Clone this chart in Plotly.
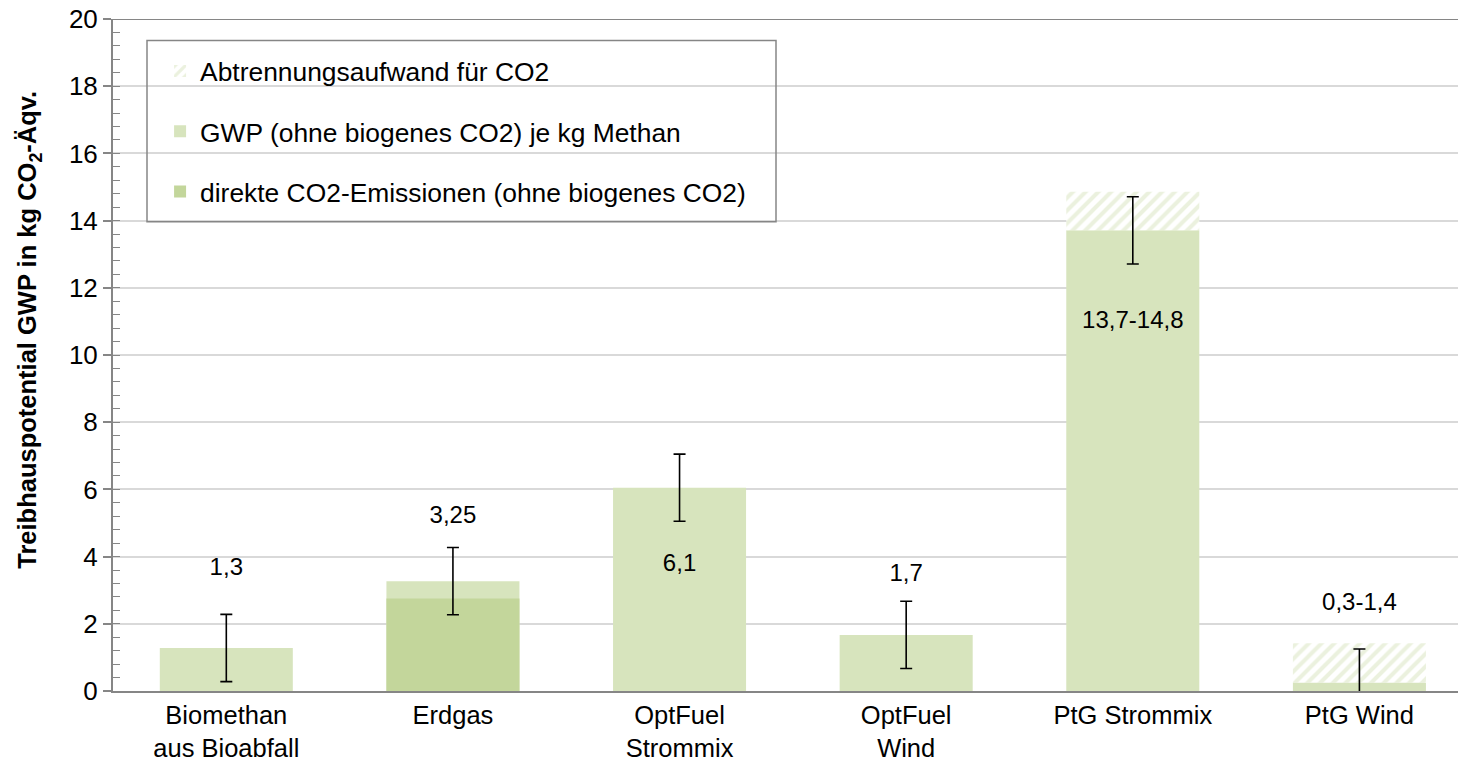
import plotly.graph_objects as go

categories = ["Biomethan<br>aus Bioabfall", "Erdgas", "OptFuel<br>Strommix", "OptFuel<br>Wind", "PtG Strommix", "PtG Wind"]
gwp = [1.28, 3.27, 6.05, 1.67, 13.71, 0.25]
abtrennung_top = [None, None, None, None, 14.86, 1.42]
direkt = [None, 2.75, None, None, None, None]
err = [1.0, 1.0, 1.0, 1.0, 1.0, 1.0]
label_text = ["1,3", "3,25", "6,1", "1,7", "13,7-14,8", "0,3-1,4"]
label_y = [3.64, 5.19, 3.76, 3.46, 10.99, 2.6]

LIGHT = "#D7E4BD"
DARK = "#C3D69B"
GRAY = "#868686"
FONT = "Liberation Sans, Arial, sans-serif"

hatch_base = [g if t is not None else None for g, t in zip(gwp, abtrennung_top)]
hatch_len = [(t - g) if t is not None else None for g, t in zip(gwp, abtrennung_top)]

fig = go.Figure()
fig.add_trace(go.Bar(
    x=categories, y=gwp, name="GWP (ohne biogenes CO2) je kg Methan",
    marker=dict(color=LIGHT, line=dict(width=0)), width=0.587,
    legendgroup="b", legendrank=2, showlegend=True,
))
fig.add_trace(go.Bar(
    x=categories, y=direkt, name="direkte CO2-Emissionen (ohne biogenes CO2)",
    marker=dict(color=DARK, line=dict(width=0)), width=0.587,
    legendgroup="c", legendrank=3,
))
fig.add_trace(go.Bar(
    x=categories, y=hatch_len, base=hatch_base, name="Abtrennungsaufwand für CO2",
    marker=dict(color="white", line=dict(width=0),
                pattern=dict(shape="/", fgcolor=LIGHT, bgcolor="white", size=9, solidity=0.45)),
    width=0.587, legendgroup="a", legendrank=1,
))
# error bars drawn on top
fig.add_trace(go.Scatter(
    x=categories, y=gwp, mode="markers", marker=dict(size=1, color="rgba(0,0,0,0)"),
    error_y=dict(type="data", array=err, color="black", thickness=1.6, width=6),
    showlegend=False, hoverinfo="skip",
))
# value labels
fig.add_trace(go.Scatter(
    x=categories, y=label_y, mode="text", text=label_text,
    textfont=dict(family=FONT, size=24, color="black"), textposition="middle center",
    showlegend=False, hoverinfo="skip",
))

fig.update_layout(
    width=1458, height=766,
    margin=dict(l=113, r=0, t=19, b=74.5, autoexpand=False),
    paper_bgcolor="white", plot_bgcolor="white",
    barmode="overlay",
    font=dict(family=FONT, size=24, color="black"),
    legend=dict(
        x=0.035, y=0.958, xanchor="left", yanchor="top",
        bgcolor="rgba(0,0,0,0)", borderwidth=0,
        font=dict(family=FONT, size=26.4, color="black"),
        tracegroupgap=23, traceorder="grouped",
    ),
    xaxis=dict(
        range=[-0.5, 5.435], showline=True, linecolor=GRAY, linewidth=2,
        ticks="", tickfont=dict(family=FONT, size=25.5, color="black"),
        showgrid=False,
    ),
    yaxis=dict(
        range=[0, 20], dtick=2, tick0=0, showgrid=True, gridcolor="#D9D9D9", gridwidth=1.5,
        showline=True, linecolor=GRAY, linewidth=2,
        ticks="outside", ticklen=8, tickcolor=GRAY, tickwidth=1.5,
        tickfont=dict(family=FONT, size=26, color="black"),
        minor=dict(dtick=0.4, ticks="inside", ticklen=7, tickcolor=GRAY, tickwidth=1.2, showgrid=False),
        zeroline=False,
    ),
    shapes=[
        dict(type="rect", xref="paper", yref="paper",
             x0=(147 - 113) / 1345, x1=(776 - 113) / 1345,
             y0=(691.5 - 222) / 672.5, y1=(691.5 - 40.5) / 672.5,
             line=dict(color=GRAY, width=1.5), fillcolor="rgba(0,0,0,0)", layer="above"),
        dict(type="line", xref="paper", yref="y", x0=-8 / 1345, x1=1, y0=20, y1=20,
             line=dict(color=GRAY, width=2)),
    ],
    annotations=[
        dict(text="<b>Treibhauspotential GWP in kg CO<sub>2</sub>-Äqv.</b>",
             xref="paper", yref="paper", x=(29 - 113) / 1345, y=(691.5 - 330) / 672.5,
             xanchor="center", yanchor="middle", textangle=-90, showarrow=False,
             font=dict(family=FONT, size=25.5, color="black")),
    ],
)

fig.write_html("out.html", config={"displayModeBar": False},
               post_script="document.body.style.margin='0';document.body.style.padding='0';")
